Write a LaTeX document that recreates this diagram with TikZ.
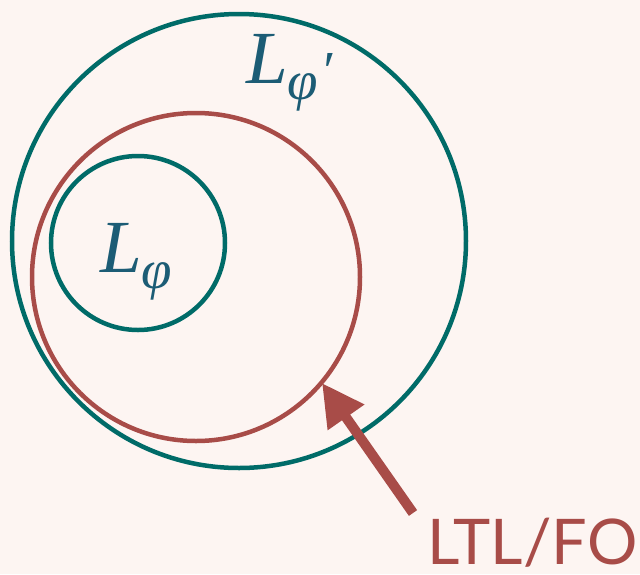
\documentclass[tikz,border=0pt]{standalone}
\usepackage{fontspec}
\setsansfont{Lato}
\newfontfamily\labfont{Liberation Serif}
\usetikzlibrary{arrows.meta}
\definecolor{bgc}{HTML}{FDF5F2}
\definecolor{tealc}{HTML}{006B68}
\definecolor{redc}{HTML}{A84C48}
\definecolor{labc}{HTML}{1C5C75}
\newcommand{\subphi}[1]{\raisebox{-16pt}{\fontsize{55}{60}\selectfont φ#1}}
\begin{document}
\begin{tikzpicture}[x=1pt,y=-1pt,
  ring/.style={line width=4.5pt},
  lab/.style={text=labc,font=\labfont\itshape\fontsize{75}{80}\selectfont,inner sep=0pt,anchor=base west},
]
\fill[bgc] (0,0) rectangle (640,574);
\useasboundingbox (0,0) rectangle (640,574);
\draw[ring,tealc] (239,241) circle (227);
\draw[ring,redc] (196,277) circle (164);
\draw[ring,tealc] (138,243) circle (87);
\node[lab] (lphi) at (100,272) {L\subphi{}};
\node[lab] (lphip) at (246,83) {L\subphi{\kern2pt\raisebox{10pt}{′}}};
\node[text=redc,font=\sffamily\fontsize{63}{66}\selectfont,anchor=base west,inner sep=0pt] (ltl) at (427,564) {LTL/FO};
\coordinate (tail) at (413,513);
\coordinate (tip) at (322,383);
\draw[redc,line width=10pt,-{Triangle[length=42pt,width=42pt]}] (tail) -- (tip);
\end{tikzpicture}
\end{document}
